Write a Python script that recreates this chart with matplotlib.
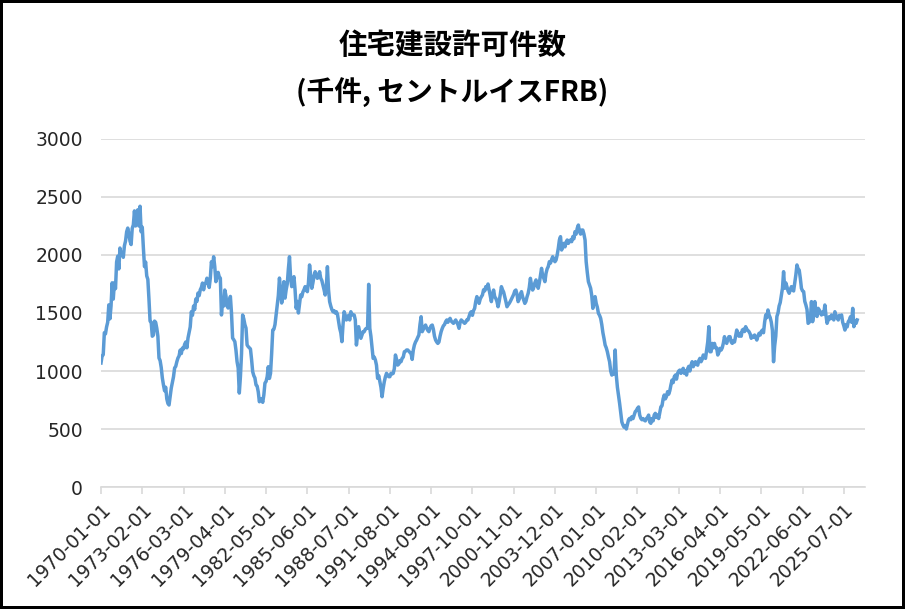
import numpy as np
import pandas as pd
import matplotlib
matplotlib.use("Agg")
import matplotlib.pyplot as plt

plt.rcParams['font.family'] = ['DejaVu Sans']

title_line1 = '住宅建設許可件数'
title_line2 = '(千件, セントルイスFRB)'

start_month = '1970-01-01'
n_categories = 686      # category axis keeps going a few months past the last value
label_every = 37

# monthly values, thousands (SAAR), one row per year
permits = [
    1069, 1130, 1140, 1330, 1320, 1380, 1420, 1570, 1450, 1560, 1760, 1620,  # 1970
    1760, 1710, 1940, 1990, 1880, 2060, 2000, 2020, 1980, 2080, 2120, 2200,  # 1971
    2232, 2180, 2120, 2090, 2230, 2260, 2380, 2250, 2330, 2390, 2250, 2420,  # 1972
    2200, 2240, 2060, 1900, 1940, 1820, 1790, 1620, 1430, 1420, 1300, 1310,  # 1973
    1430, 1420, 1370, 1300, 1112, 1090, 1030, 940, 880, 830, 860, 760,       # 1974
    720, 707, 780, 853, 900, 950, 1026, 1040, 1080, 1112, 1130, 1180,        # 1975
    1150, 1198, 1190, 1230, 1250, 1200, 1284, 1330, 1380, 1511, 1480, 1560,  # 1976
    1530, 1620, 1600, 1672, 1650, 1700, 1720, 1758, 1700, 1750, 1760, 1800,  # 1977
    1760, 1720, 1800, 1942, 1900, 1985, 1900, 1770, 1800, 1850, 1813, 1800,  # 1978
    1483, 1600, 1560, 1698, 1650, 1560, 1543, 1590, 1643, 1500, 1284, 1270,  # 1979
    1253, 1180, 1080, 1026, 810, 950, 1150, 1483, 1450, 1400, 1370, 1224,    # 1980
    1210, 1200, 1190, 1100, 994, 960, 940, 880, 870, 820, 735, 760,          # 1981
    760, 730, 793, 896, 910, 951, 1037, 936, 980, 1150, 1353, 1360,          # 1982
    1400, 1483, 1560, 1650, 1801, 1700, 1586, 1650, 1770, 1628, 1700, 1750,  # 1983
    1880, 1985, 1800, 1727, 1780, 1813, 1700, 1540, 1600, 1500, 1580, 1655,  # 1984
    1640, 1680, 1700, 1727, 1700, 1684, 1760, 1914, 1820, 1713, 1760, 1820,  # 1985
    1856, 1830, 1799, 1820, 1856, 1800, 1780, 1741, 1700, 1655, 1720, 1899,  # 1986
    1700, 1598, 1560, 1530, 1511, 1520, 1500, 1511, 1490, 1430, 1368, 1330,  # 1987
    1253, 1400, 1511, 1480, 1440, 1460, 1480, 1440, 1511, 1490, 1483, 1483,  # 1988
    1440, 1224, 1300, 1382, 1330, 1282, 1310, 1339, 1339, 1360, 1368, 1368,  # 1989
    1747, 1368, 1300, 1200, 1109, 1120, 1095, 1050, 937, 960, 908, 860,      # 1990
    778, 850, 908, 950, 980, 965, 951, 951, 980, 975, 980, 1020,             # 1991
    1138, 1100, 1051, 1060, 1090, 1080, 1109, 1120, 1166, 1170, 1181, 1181,  # 1992
    1170, 1160, 1152, 1100, 1180, 1224, 1250, 1267, 1290, 1310, 1400, 1468,  # 1993
    1339, 1360, 1380, 1396, 1370, 1350, 1339, 1370, 1390, 1396, 1360, 1300,  # 1994
    1267, 1250, 1238, 1250, 1300, 1340, 1368, 1390, 1400, 1425, 1440, 1420,  # 1995
    1440, 1454, 1430, 1420, 1411, 1425, 1440, 1420, 1400, 1368, 1420, 1440,  # 1996
    1430, 1420, 1411, 1420, 1440, 1440, 1470, 1500, 1511, 1480, 1520, 1540,  # 1997
    1600, 1641, 1620, 1583, 1620, 1640, 1655, 1700, 1690, 1727, 1710, 1750,  # 1998
    1698, 1650, 1598, 1660, 1698, 1640, 1626, 1600, 1554, 1600, 1660, 1727,  # 1999
    1700, 1680, 1641, 1600, 1554, 1570, 1583, 1600, 1620, 1641, 1660, 1690,  # 2000
    1698, 1660, 1598, 1620, 1660, 1684, 1640, 1610, 1583, 1600, 1640, 1670,  # 2001
    1720, 1799, 1740, 1698, 1720, 1760, 1785, 1740, 1713, 1760, 1820, 1885,  # 2002
    1820, 1800, 1770, 1842, 1880, 1900, 1942, 1930, 1960, 1985, 1960, 1942,  # 2003
    1957, 2000, 2057, 2129, 2158, 2043, 2080, 2100, 2070, 2110, 2129, 2100,  # 2004
    2115, 2130, 2115, 2158, 2140, 2201, 2180, 2230, 2258, 2201, 2180, 2215,  # 2005
    2215, 2180, 2129, 1942, 1850, 1770, 1740, 1713, 1650, 1540, 1590, 1641,  # 2006
    1583, 1550, 1497, 1480, 1454, 1400, 1330, 1280, 1224, 1200, 1166, 1120,  # 2007
    1080, 1000, 965, 980, 975, 1181, 965, 860, 793, 720, 640, 560,           # 2008
    534, 515, 530, 500, 540, 580, 592, 580, 606, 590, 620, 649,              # 2009
    660, 678, 690, 620, 592, 580, 590, 577, 570, 590, 600, 620,              # 2010
    560, 549, 590, 570, 620, 635, 600, 620, 590, 640, 692, 700,              # 2011
    760, 793, 760, 780, 822, 800, 830, 880, 922, 900, 950, 965,              # 2012
    930, 980, 1000, 1008, 980, 1000, 1023, 980, 1000, 965, 1020, 1040,       # 2013
    1000, 1050, 1080, 1037, 1060, 1080, 1060, 1050, 1090, 1109, 1080, 1100,  # 2014
    1138, 1120, 1109, 1180, 1250, 1382, 1166, 1166, 1238, 1200, 1238, 1200,  # 2015
    1200, 1138, 1160, 1195, 1180, 1200, 1240, 1296, 1250, 1238, 1270, 1296,  # 2016
    1296, 1250, 1238, 1260, 1250, 1300, 1353, 1320, 1300, 1325, 1300, 1353,  # 2017
    1360, 1340, 1382, 1360, 1350, 1339, 1320, 1282, 1300, 1290, 1310, 1290,  # 2018
    1267, 1300, 1325, 1310, 1340, 1353, 1330, 1420, 1483, 1460, 1526, 1483,  # 2019
    1460, 1420, 1350, 1080, 1216, 1300, 1470, 1500, 1560, 1590, 1650, 1713,  # 2020
    1856, 1713, 1760, 1727, 1690, 1670, 1700, 1727, 1700, 1690, 1760, 1828,  # 2021
    1914, 1880, 1870, 1800, 1713, 1690, 1684, 1600, 1569, 1530, 1411, 1420,  # 2022
    1440, 1598, 1425, 1480, 1598, 1511, 1470, 1540, 1526, 1498, 1483, 1510,  # 2023
    1490, 1569, 1480, 1411, 1440, 1468, 1450, 1483, 1470, 1440, 1511, 1480,  # 2024
    1460, 1440, 1480, 1470, 1483, 1420, 1390, 1353, 1400, 1380, 1425, 1440,  # 2025
    1468, 1420, 1540, 1382, 1430, 1411, 1440,                                # 2026
]

months = pd.date_range(start_month, periods=n_categories, freq='MS')
tick_pos = np.arange(0, n_categories, label_every)
tick_labels = [months[i].strftime('%Y-%m-%d') for i in tick_pos]

grid_col = '#d9d9d9'
line_col = '#5b9bd5'

fig = plt.figure(figsize=(9.05, 6.09), dpi=100, facecolor='white',
                 edgecolor='black', linewidth=3)
ax = fig.add_axes([0.1116, 0.2003, 0.8442, 0.5715])

ax.plot(np.arange(len(permits)), permits, color=line_col, linewidth=2.5,
        solid_joinstyle='round')

ax.set_xlim(0, n_categories - 1)
ax.set_ylim(0, 3000)
ax.set_yticks(np.arange(0, 3001, 500))
ax.yaxis.grid(True, color=grid_col, linewidth=1.2)
ax.set_axisbelow(True)

for side in ['left', 'right', 'top']:
    ax.spines[side].set_visible(False)
ax.spines['bottom'].set_color(grid_col)
ax.spines['bottom'].set_linewidth(1.2)

ax.tick_params(axis='y', length=0, pad=13, labelsize=13.5, labelcolor='#262626')
ax.tick_params(axis='x', length=5, width=1.2, color=grid_col, direction='out',
               pad=4, labelsize=13.5, labelcolor='#262626')
ax.set_xticks(tick_pos)
ax.set_xticklabels(tick_labels, rotation=45, ha='right', rotation_mode='anchor')

cjk = ['Noto Sans CJK JP', 'DejaVu Sans']
fig.text(0.5, 1 - 46 / 609, title_line1, ha='center', va='center',
         fontsize=20.5, fontweight='bold', family=cjk)
fig.text(0.5, 1 - 92 / 609, title_line2, ha='center', va='center',
         fontsize=20, fontweight='bold', family=cjk)

fig.savefig('out.png', dpi=100, facecolor='white', edgecolor='black')
